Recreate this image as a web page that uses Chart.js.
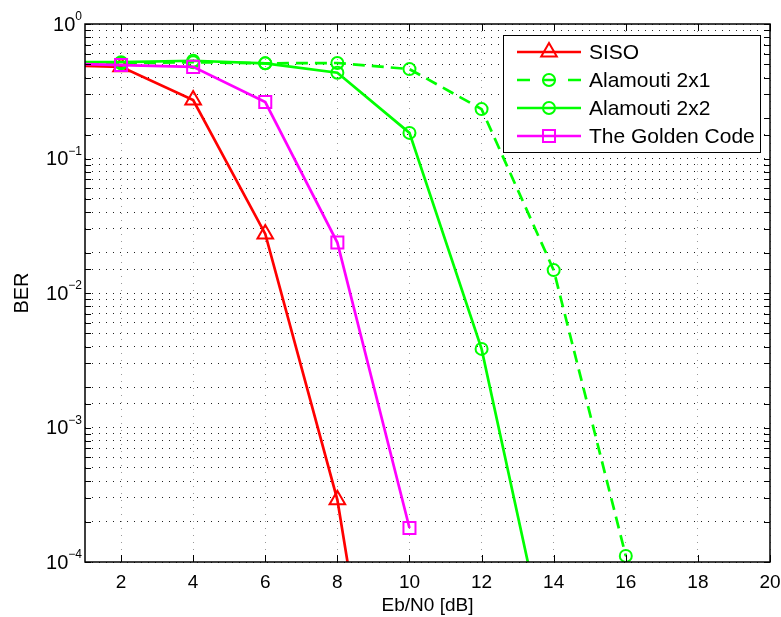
<!DOCTYPE html>
<html>
<head>
<meta charset="utf-8">
<script src="https://cdn.jsdelivr.net/npm/chart.js@4"></script>
<style>
  body { margin: 0; background: #fff; }
  #wrap { width: 781px; height: 617px; }
</style>
</head>
<body>
<div id="wrap"><canvas id="ber-chart"></canvas></div>
<script>
// BER curves, values

const ebn0 = [0, 2, 4, 6, 8, 10, 12, 14, 16];
const xTickVals = [2, 4, 6, 8, 10, 12, 14, 16, 18, 20];

const seriesNames = ['SISO', 'Alamouti 2x1', 'Alamouti 2x2', 'The Golden Code'];
const berSiso = [0.495, 0.48, 0.272, 0.0275, 2.9e-4, 1.5e-7];
const berAla21 = [0.52, 0.51, 0.52, 0.51, 0.513, 0.462, 0.233, 0.0148, 1.11e-4];
const berAla22 = [0.52, 0.52, 0.533, 0.51, 0.434, 0.155, 3.84e-3, 1.3e-5];
const berGolden = [0.51, 0.495, 0.48, 0.263, 0.0237, 1.79e-4];

const FONT = '"Liberation Sans", Arial, Helvetica, sans-serif';

function toPoints(values) {
    let pts = [];
    for (let i = 0; i < values.length; i++) {
        pts.push({ x: ebn0[i], y: values[i] });
    }
    return pts;
}

function makeSet(label, values, color, style, radius, dash, order) {
    return {
        label: label,
        data: toPoints(values),
        order: order,
        borderColor: color,
        borderWidth: 2.7,
        borderDash: dash,
        pointStyle: style,
        pointRadius: radius,
        pointBorderWidth: 2,
        pointBorderColor: color,
        pointBackgroundColor: 'transparent',
        tension: 0,
        fill: false
    };
}

// y tick labels as 10^n, inward ticks, box and legend
const matlabLook = {
    id: 'matlabLook',
    afterDraw(chart) {
        const ctx = chart.ctx;
        const area = chart.chartArea;
        const xs = chart.scales.x;
        const ys = chart.scales.y;

        ctx.save();
        ctx.strokeStyle = '#000';
        ctx.lineWidth = 1;
        ctx.setLineDash([]);

        // tick marks pointing inside on all four sides
        ctx.beginPath();
        xs.ticks.forEach(t => {
            const px = Math.round(xs.getPixelForValue(t.value)) + 0.5;
            ctx.moveTo(px, area.bottom); ctx.lineTo(px, area.bottom - 7);
            ctx.moveTo(px, area.top); ctx.lineTo(px, area.top + 7);
        });
        ys.ticks.forEach(t => {
            const py = Math.round(ys.getPixelForValue(t.value)) + 0.5;
            ctx.moveTo(area.left, py); ctx.lineTo(area.left + 6, py);
            ctx.moveTo(area.right, py); ctx.lineTo(area.right - 6, py);
        });
        ctx.stroke();

        ctx.lineWidth = 1.5;
        ctx.strokeRect(area.left, area.top, area.right - area.left, area.bottom - area.top);

        // y labels with superscript exponent
        ctx.fillStyle = '#000';
        ys.ticks.forEach(t => {
            const e = Math.round(Math.log10(t.value));
            if (Math.abs(Math.pow(10, e) - t.value) > t.value * 1e-6) {
                return;
            }
            const py = ys.getPixelForValue(t.value);
            const expText = e < 0 ? '\u2212' + (-e) : String(e);
            ctx.font = '12px ' + FONT;
            const ew = ctx.measureText(expText).width;
            const right = area.left - 3;
            ctx.textAlign = 'left';
            ctx.textBaseline = 'middle';
            ctx.fillText(expText, right - ew, py - 7);
            ctx.font = '20px ' + FONT;
            ctx.textAlign = 'right';
            ctx.fillText('10', right - ew, py + 1);
        });

        // legend box in the top right corner
        const sets = chart.data.datasets;
        const boxR = area.right - 10;
        const boxL = boxR - 257;
        const boxT = area.top + 11;
        const rowH = 28;
        const boxB = boxT + 117;
        ctx.fillStyle = '#fff';
        ctx.fillRect(boxL, boxT, boxR - boxL, boxB - boxT);
        ctx.lineWidth = 1;
        ctx.strokeRect(boxL + 0.5, boxT + 0.5, boxR - boxL, boxB - boxT);

        for (let i = 0; i < sets.length; i++) {
            const ds = sets[i];
            const cy = boxT + 17 + i * rowH;
            const x0 = boxL + 14;
            const x1 = boxL + 78;
            ctx.strokeStyle = ds.borderColor;
            ctx.lineWidth = ds.borderWidth;
            ctx.setLineDash(ds.borderDash ? [13, 12, 14, 12] : []);
            ctx.beginPath();
            ctx.moveTo(x0, cy);
            ctx.lineTo(x1, cy);
            ctx.stroke();
            ctx.setLineDash([]);
            ctx.lineWidth = ds.pointBorderWidth;
            ctx.fillStyle = 'rgba(0,0,0,0)';
            Chart.helpers.drawPoint(ctx, {
                pointStyle: ds.pointStyle,
                radius: ds.pointRadius,
                rotation: 0,
                borderWidth: ds.pointBorderWidth
            }, (x0 + x1) / 2, cy);
            ctx.fillStyle = '#000';
            ctx.font = '21px ' + FONT;
            ctx.textAlign = 'left';
            ctx.textBaseline = 'middle';
            ctx.fillText(ds.label, x1 + 8, cy + 1);
        }
        ctx.restore();
    }
};

function createBerChart() {
    const ctx = document.getElementById('ber-chart').getContext('2d');

    const data = {
        datasets: [
            makeSet(seriesNames[0], berSiso, '#ff0000', 'triangle', 9, undefined, 4),
            makeSet(seriesNames[1], berAla21, '#00ff00', 'circle', 6, [12, 7], 3),
            makeSet(seriesNames[2], berAla22, '#00ff00', 'circle', 6, undefined, 2),
            makeSet(seriesNames[3], berGolden, '#ff00ff', 'rect', 8.5, undefined, 1)
        ]
    };

    const config = {
        type: 'line',
        data: data,
        options: {
            responsive: true,
            maintainAspectRatio: false,
            animation: false,
            layout: { padding: { left: 0, right: 11, top: 24, bottom: 0 } },
            plugins: {
                legend: { display: false },
                tooltip: { enabled: false }
            },
            scales: {
                x: {
                    type: 'linear',
                    min: 1,
                    max: 20,
                    afterBuildTicks: scale => {
                        scale.ticks = xTickVals.map(v => ({ value: v }));
                    },
                    afterFit: scale => {
                        scale.height = 55;
                        scale.paddingLeft = 0;
                        scale.paddingRight = 0;
                    },
                    grid: { color: '#999', lineWidth: 1, drawTicks: false },
                    border: { display: false, dash: [1, 6] },
                    ticks: {
                        color: '#000',
                        font: { family: FONT, size: 19 },
                        padding: 9,
                        maxRotation: 0,
                        autoSkip: false
                    },
                    title: {
                        display: true,
                        text: 'Eb/N0 [dB]',
                        color: '#000',
                        font: { family: FONT, size: 19 },
                        padding: { top: 0, bottom: 0 }
                    }
                },
                y: {
                    type: 'logarithmic',
                    min: 1e-4,
                    max: 1,
                    afterFit: scale => {
                        scale.width = 85;
                        scale.paddingTop = 0;
                        scale.paddingBottom = 0;
                    },
                    grid: { color: '#222', lineWidth: 1, drawTicks: false },
                    border: { display: false, dash: [1, 6] },
                    ticks: { display: false, autoSkip: false },
                    title: {
                        display: true,
                        text: 'BER',
                        color: '#000',
                        font: { family: FONT, size: 20 },
                        padding: { top: 10, bottom: 0 }
                    }
                }
            }
        },
        plugins: [matlabLook]
    };

    return new Chart(ctx, config);
}

createBerChart();
</script>
</body>
</html>
